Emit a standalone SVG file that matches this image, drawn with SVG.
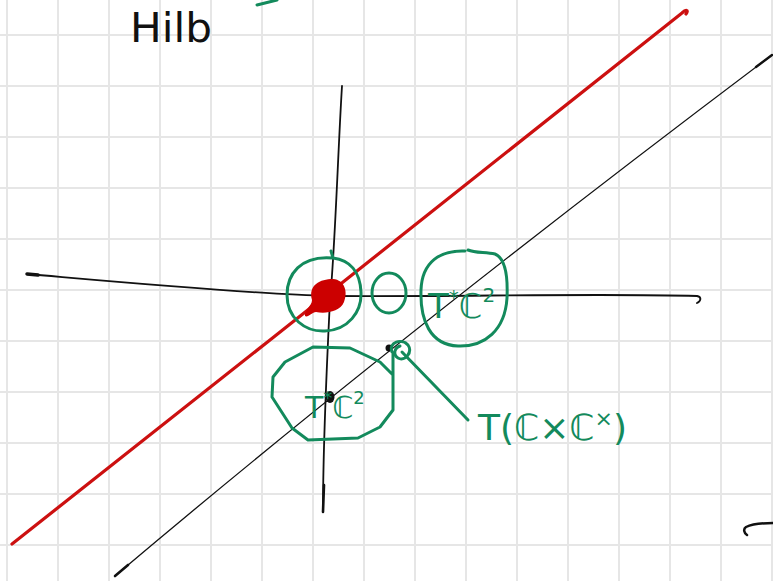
<svg xmlns="http://www.w3.org/2000/svg" width="773" height="581" viewBox="0 0 773 581">
  <style>
    .grid line { stroke: #e6e6e6; stroke-width: 2; }
    .ink { fill: none; stroke: #111; stroke-linecap: round; stroke-linejoin: round; }
    .green { fill: none; stroke: #138a5c; stroke-width: 3; stroke-linecap: round; stroke-linejoin: round; }
    .gtext { fill: #138a5c; font-family: "DejaVu Sans", "Noto Sans", sans-serif; }
  </style>
  <rect width="773" height="581" fill="#ffffff"/>
  <g id="grid" class="grid">
    <line x1="7" y1="0" x2="7" y2="581"/><line x1="58" y1="0" x2="58" y2="581"/>
    <line x1="109" y1="0" x2="109" y2="581"/><line x1="160" y1="0" x2="160" y2="581"/>
    <line x1="211" y1="0" x2="211" y2="581"/><line x1="262" y1="0" x2="262" y2="581"/>
    <line x1="313" y1="0" x2="313" y2="581"/><line x1="364" y1="0" x2="364" y2="581"/>
    <line x1="415" y1="0" x2="415" y2="581"/><line x1="466" y1="0" x2="466" y2="581"/>
    <line x1="517" y1="0" x2="517" y2="581"/><line x1="568" y1="0" x2="568" y2="581"/>
    <line x1="619" y1="0" x2="619" y2="581"/><line x1="670" y1="0" x2="670" y2="581"/>
    <line x1="721" y1="0" x2="721" y2="581"/><line x1="772" y1="0" x2="772" y2="581"/>
    <line x1="0" y1="35" x2="773" y2="35"/><line x1="0" y1="86" x2="773" y2="86"/>
    <line x1="0" y1="137" x2="773" y2="137"/><line x1="0" y1="188" x2="773" y2="188"/>
    <line x1="0" y1="239" x2="773" y2="239"/><line x1="0" y1="290" x2="773" y2="290"/>
    <line x1="0" y1="341" x2="773" y2="341"/><line x1="0" y1="392" x2="773" y2="392"/>
    <line x1="0" y1="443" x2="773" y2="443"/><line x1="0" y1="494" x2="773" y2="494"/>
    <line x1="0" y1="545" x2="773" y2="545"/>
  </g>
  <g id="title">
    <text x="130" y="42" font-family="DejaVu Sans, sans-serif" font-size="40" fill="#111" textLength="82" lengthAdjust="spacingAndGlyphs">Hilb</text>
    <path class="green" d="M257,5 L277,0"/>
  </g>
  <g id="axes">
    <path class="ink" stroke-width="1.8" d="M27,274 C120,282 250,294 330,296 C450,297 600,293 697,296 C702,297 701,301 697,303"/>
    <path class="ink" stroke-width="3.5" d="M27,274 L38,275"/>
    <path class="ink" stroke-width="1.8" d="M342,86 C338,150 335,250 330,300 C326,380 323,450 323,512"/>
    <path class="ink" stroke-width="2.6" d="M324,485 L323,512"/>
  </g>
  <g id="red-line">
    <path fill="none" stroke="#cc1010" stroke-width="3.2" stroke-linecap="round" stroke-linejoin="round" d="M12,544 L270,340 L682,13 C686,9 689,10 686,14"/>
  </g>
  <g id="diagonal">
    <path class="ink" stroke-width="1.3" d="M115,576 Q400,335 772,55"/>
    <path class="ink" stroke-width="2.6" d="M115,576 L128,565"/>
    <path class="ink" stroke-width="2.4" d="M756,67 L772,55"/>
  </g>
  <g id="origin">
    <path class="green" d="M333,258 C300,255 287,275 287,295 C287,318 305,332 325,331 C348,330 362,312 361,292 C360,272 350,260 333,258 Z M333,258 L331,251"/>
    <path fill="#cc0000" d="M312,300 C308,285 320,279 333,279 C345,280 348,292 344,302 C340,312 325,314 316,312 C312,312 308,318 305,316 C304,310 312,306 312,300 Z"/>
  </g>
  <g id="zero">
    <ellipse class="green" cx="389" cy="293" rx="17" ry="20"/>
  </g>
  <g id="tc2-top">
    <path class="green" d="M465,251 C440,250 422,262 421,290 C420,320 430,345 458,346 C485,347 505,330 507,298 C508,275 505,258 495,254 C485,252 475,253 468,250"/>
    <text class="gtext" x="428" y="318" font-size="34">T<tspan dy="-14" font-size="20">*</tspan><tspan dy="14">ℂ</tspan><tspan dy="-16" font-size="20">2</tspan></text>
  </g>
  <g id="tc2-bottom">
    <path class="green" d="M285,362 L313,347 L350,348 L380,362 L393,375 L393,410 L380,427 L358,438 L308,440 L292,428 L272,397 L273,377 Z M393,375 L393,354"/>
    <ellipse cx="330" cy="397" rx="4.5" ry="6" fill="#111"/>
    <text class="gtext" x="305" y="418" font-size="30">T<tspan dy="-14" font-size="18">*</tspan><tspan dy="14">ℂ</tspan><tspan dy="-14" font-size="18">2</tspan></text>
  </g>
  <g id="point">
    <circle cx="389" cy="348" r="3.5" fill="#111"/>
    <path class="green" d="M392,352 C388,342 402,338 408,345 C413,352 405,362 398,358 C393,355 394,348 400,346"/>
  </g>
  <g id="connectors">
    <path class="green" stroke-width="3.5" d="M402,352 L468,420"/>
  </g>
  <g id="label-tcc">
    <text class="gtext" x="478" y="440" font-size="36">T(ℂ×ℂ<tspan dy="-14" font-size="22">×</tspan><tspan dy="14">)</tspan></text>
  </g>
  <g id="edge-mark">
    <path class="ink" stroke-width="2.5" d="M773,523 C760,523 750,525 746,527 C743,529 744,533 747,535"/>
  </g>
</svg>
